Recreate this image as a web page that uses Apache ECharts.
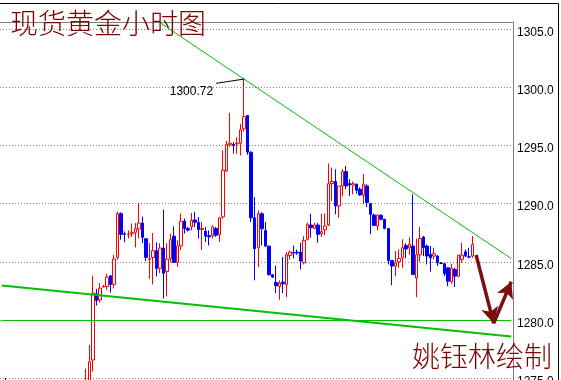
<!DOCTYPE html>
<html><head><meta charset="utf-8">
<script src="https://cdn.jsdelivr.net/npm/echarts@6/dist/echarts.min.js"></script>
<style>html,body{margin:0;padding:0;background:#fff;overflow:hidden}#c{width:561px;height:380px}</style>
</head><body><div id="c"></div>
<script>
// ---- data ----
const categoryCount = 146;
const categories = Array.from({length: categoryCount}, (_, i) => 'H' + i);
const yTicks = [1275, 1280, 1285, 1290, 1295, 1300, 1305];
const earlyCandles = [[1, [1273.5, 1273.0, 1272.5, 1275.0]]];
const firstIndex = 24;
// [open, close, low, high]
const ohlc = [
 [1274.0, 1274.6, 1273.5, 1275.8],
 [1274.3, 1276.4, 1274.0, 1277.85],
 [1276.55, 1282.3, 1275.55, 1283.8],
 [1282.24, 1281.67, 1281.24, 1282.67],
 [1281.72, 1282.73, 1281.49, 1283.16],
 [1282.82, 1282.87, 1282.8, 1283.02],
 [1282.87, 1283.68, 1282.59, 1283.97],
 [1283.79, 1283.05, 1282.36, 1283.79],
 [1283.05, 1285.23, 1282.7, 1285.6],
 [1285.37, 1289.14, 1285.17, 1289.31],
 [1289.14, 1287.36, 1286.9, 1289.25],
 [1287.41, 1287.36, 1286.67, 1287.6],
 [1287.33, 1287.38, 1287.0, 1287.7],
 [1287.41, 1287.53, 1287.13, 1288.28],
 [1287.53, 1287.84, 1286.24, 1288.33],
 [1287.82, 1288.33, 1287.01, 1290.06],
 [1288.33, 1287.1, 1286.6, 1288.88],
 [1286.98, 1285.37, 1285.03, 1286.98],
 [1285.2, 1285.26, 1283.53, 1286.6],
 [1285.37, 1285.95, 1283.05, 1287.47],
 [1285.95, 1284.43, 1283.74, 1286.67],
 [1284.43, 1286.18, 1284.02, 1286.6],
 [1286.18, 1284.02, 1281.84, 1289.48],
 [1284.17, 1285.23, 1282.01, 1286.6],
 [1285.26, 1286.9, 1284.94, 1287.41],
 [1287.2, 1284.94, 1284.89, 1288.05],
 [1284.94, 1286.36, 1284.56, 1286.85],
 [1286.37, 1288.49, 1286.0, 1289.15],
 [1288.49, 1287.86, 1287.43, 1288.72],
 [1287.86, 1287.72, 1287.6, 1288.0],
 [1288.0, 1288.57, 1287.7, 1289.2],
 [1288.6, 1288.4, 1288.0, 1289.3],
 [1288.37, 1287.77, 1287.0, 1288.86],
 [1287.77, 1287.86, 1286.0, 1288.43],
 [1287.63, 1287.2, 1286.7, 1288.0],
 [1287.25, 1287.14, 1286.4, 1287.7],
 [1287.23, 1288.0, 1287.0, 1288.14],
 [1287.86, 1287.28, 1287.14, 1288.0],
 [1287.34, 1288.77, 1286.7, 1288.86],
 [1288.86, 1292.88, 1288.7, 1294.6],
 [1292.82, 1295.11, 1292.73, 1295.4],
 [1295.1, 1295.2, 1294.9, 1297.81],
 [1295.1, 1295.0, 1294.3, 1295.3],
 [1295.14, 1295.2, 1294.28, 1295.72],
 [1295.2, 1296.35, 1294.14, 1296.86],
 [1296.43, 1297.49, 1296.2, 1300.72],
 [1297.58, 1294.43, 1294.2, 1297.6],
 [1294.43, 1288.78, 1288.41, 1294.5],
 [1288.78, 1286.12, 1283.4, 1290.56],
 [1286.2, 1289.13, 1284.54, 1289.41],
 [1289.13, 1287.84, 1286.4, 1289.27],
 [1287.69, 1286.35, 1286.26, 1288.41],
 [1286.35, 1283.88, 1283.83, 1286.35],
 [1283.88, 1283.68, 1283.6, 1283.9],
 [1283.22, 1282.94, 1282.31, 1284.68],
 [1282.88, 1283.17, 1281.73, 1283.4],
 [1283.25, 1283.1, 1282.31, 1285.4],
 [1283.05, 1285.6, 1281.96, 1285.83],
 [1285.54, 1285.83, 1285.2, 1285.97],
 [1285.8, 1285.74, 1285.3, 1286.4],
 [1285.83, 1285.77, 1285.6, 1286.05],
 [1285.83, 1285.06, 1284.34, 1286.64],
 [1284.91, 1286.84, 1284.77, 1287.2],
 [1286.93, 1288.22, 1286.84, 1288.36],
 [1288.16, 1287.93, 1287.07, 1289.14],
 [1287.87, 1288.16, 1287.8, 1288.36],
 [1288.16, 1287.36, 1286.64, 1288.36],
 [1287.41, 1287.59, 1287.13, 1289.14],
 [1287.76, 1288.07, 1287.27, 1289.14],
 [1288.16, 1291.72, 1288.07, 1293.45],
 [1291.72, 1291.9, 1290.23, 1293.1],
 [1291.9, 1289.8, 1289.08, 1292.96],
 [1289.8, 1291.52, 1288.79, 1291.52],
 [1291.52, 1292.76, 1290.66, 1292.96],
 [1292.76, 1291.52, 1291.24, 1293.25],
 [1291.72, 1291.6, 1290.66, 1292.1],
 [1291.6, 1291.72, 1290.8, 1291.9],
 [1291.67, 1291.15, 1290.86, 1291.72],
 [1291.24, 1290.75, 1290.66, 1291.4],
 [1290.72, 1291.67, 1289.94, 1292.53],
 [1291.52, 1290.09, 1289.71, 1291.67],
 [1290.0, 1289.08, 1287.36, 1290.0],
 [1289.02, 1288.13, 1288.07, 1289.14],
 [1288.07, 1289.02, 1287.7, 1289.08],
 [1289.0, 1288.65, 1288.56, 1289.08],
 [1288.65, 1287.87, 1287.79, 1288.7],
 [1287.87, 1285.11, 1284.77, 1287.87],
 [1285.11, 1284.63, 1282.99, 1285.11],
 [1284.63, 1284.91, 1283.76, 1285.92],
 [1285.0, 1285.29, 1284.48, 1286.06],
 [1285.34, 1286.21, 1284.48, 1286.93],
 [1286.4, 1286.1, 1285.3, 1286.6],
 [1286.2, 1286.5, 1285.6, 1287.1],
 [1286.35, 1283.91, 1283.91, 1290.8],
 [1283.6, 1285.6, 1281.95, 1287.0],
 [1285.6, 1287.0, 1285.0, 1288.0],
 [1287.13, 1286.21, 1285.49, 1287.21],
 [1286.35, 1285.49, 1284.77, 1286.49],
 [1285.63, 1285.34, 1284.14, 1286.35],
 [1285.49, 1285.69, 1285.2, 1286.21],
 [1285.49, 1284.91, 1284.63, 1285.57],
 [1284.87, 1284.87, 1284.8, 1284.95],
 [1284.83, 1283.97, 1283.76, 1284.91],
 [1284.48, 1283.33, 1282.9, 1284.48],
 [1283.28, 1284.43, 1283.1, 1284.83],
 [1284.34, 1283.76, 1282.82, 1284.48],
 [1283.76, 1285.57, 1283.68, 1285.57],
 [1285.2, 1285.57, 1284.91, 1286.64],
 [1285.86, 1285.49, 1285.4, 1286.06],
 [1285.43, 1285.4, 1285.3, 1286.2],
 [1285.49, 1286.49, 1285.34, 1287.21]
];
const peakLabel = '1300.72';
const titleText = '现货黄金小时图';
const authorText = '姚钰林绘制';
// annotation lines: [category index, price]
const resistanceLine = [[45, 1305.58], [145, 1285.27]];
const supportLine = [[0, 1282.95], [145, 1278.56]];
const levelLine = [[0, 1280], [145, 1280]];
const arrowDown = [[135, 1285.58], [140, 1279.70]];
const arrowUp = [[140, 1279.70], [145, 1283.28]];
const peakPointer = [[61, 1300.35], [69, 1300.72]];

// ---- build ----
const seriesData = new Array(categoryCount).fill('-');
earlyCandles.forEach(([i, v]) => { seriesData[i] = v; });
ohlc.forEach((v, k) => { seriesData[firstIndex + k] = v; });

const c = (p) => ({coord: [categories[p[0]], p[1]]});
function seg(pts, lineStyle, endSymbol) {
  const a = c(pts[0]), b = c(pts[1]);
  a.lineStyle = lineStyle;
  a.symbol = 'none';
  b.symbol = endSymbol || 'none';
  if (endSymbol) { b.symbolSize = [13, 16]; b.itemStyle = {color: lineStyle.color}; }
  return [a, b];
}
const green = '#00c000';
const brown = '#7a0f0f';

const chart = echarts.init(document.getElementById('c'), null, {renderer: 'canvas'});
chart.setOption({
  animation: false,
  backgroundColor: '#ffffff',
  grid: {left: 0, top: 22, width: 513, height: 414.1, containLabel: false, outerBoundsMode: 'none'},
  xAxis: {
    type: 'category', data: categories, position: 'top', boundaryGap: true,
    axisLine: {show: true, lineStyle: {color: '#808080', width: 1}},
    axisTick: {show: false}, axisLabel: {show: false}, splitLine: {show: false}
  },
  yAxis: {
    type: 'value', position: 'right', min: 1270, max: 1270 + 414.1 / 11.623, interval: 5,
    axisLine: {show: true, lineStyle: {color: '#808080', width: 1}},
    axisTick: {show: false},
    splitLine: {show: true, lineStyle: {color: '#808080', type: [1, 2], width: 1}},
    axisLabel: {
      show: true, margin: 4, color: '#000', fontFamily: 'Liberation Sans', fontSize: 12,
      verticalAlign: 'top', lineHeight: 7,
      formatter: v => yTicks.includes(Math.round(v * 1000) / 1000) ? v.toFixed(1) : ''
    }
  },
  series: [{
    type: 'candlestick',
    data: seriesData,
    barWidth: 3,
    clip: true,
    silent: true,
    itemStyle: {
      color: '#ffffff', color0: '#0000ff',
      borderColor: '#ff0000', borderColor0: '#0000ff', borderColorDoji: '#000000',
      borderWidth: 1
    },
    markLine: {
      silent: true, animation: false, symbol: 'none', label: {show: false},
      emphasis: {disabled: true},
      data: [
        seg(resistanceLine, {color: green, width: 1, type: 'solid'}),
        seg(supportLine, {color: green, width: 2, type: 'solid'}),
        seg(levelLine, {color: green, width: 1.2, type: 'solid'}),
        seg(peakPointer, {color: '#000', width: 1, type: 'solid'}),
        seg(arrowDown, {color: brown, width: 3.5, type: 'solid'}, 'arrow'),
        seg(arrowUp, {color: brown, width: 3.5, type: 'solid'}, 'arrow')
      ]
    },
    markPoint: {
      silent: true, animation: false,
      data: [{
        coord: [categories[peakPointer[0][0]], peakPointer[0][1]],
        symbol: 'circle', symbolSize: 0,
        label: {show: true, formatter: peakLabel, position: 'left', distance: 3, offset: [0, 8],
                color: '#000', fontFamily: 'Liberation Sans', fontSize: 12}
      }]
    }
  }],
  graphic: [
    {type: 'rect', z: 100, shape: {x: -5, y: 3.5, width: 563.5, height: 400}, style: {fill: 'none', stroke: '#000', lineWidth: 1}, silent: true},
    {type: 'text', z: 101, left: 10, top: 9, style: {text: titleText, font: '300 28px "Noto Sans CJK SC"', fill: '#7f0000'}, silent: true},
    {type: 'text', z: 101, left: 412, top: 342, style: {text: authorText, font: '300 28px "Noto Sans CJK SC"', fill: '#7f0000'}, silent: true}
  ]
});
</script></body></html>
